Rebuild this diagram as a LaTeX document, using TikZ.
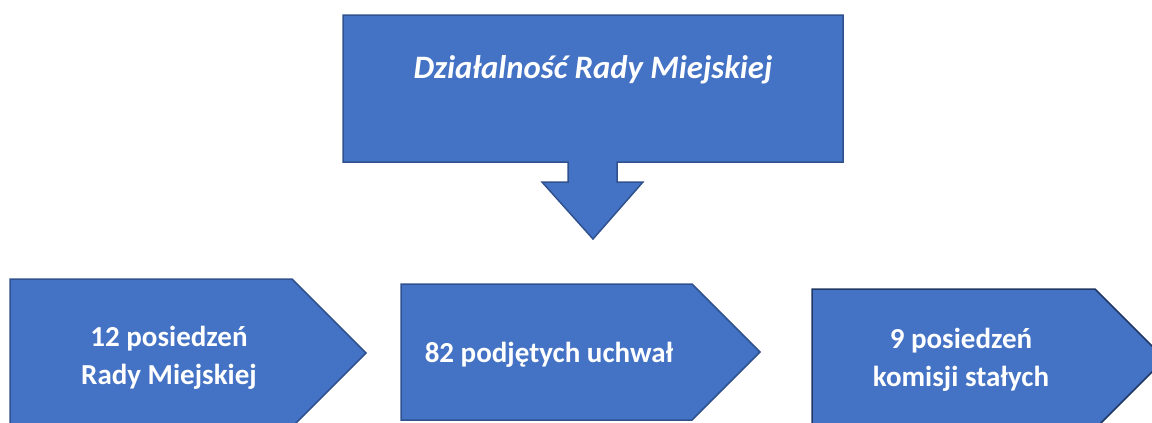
\documentclass[tikz,border=0pt]{standalone}
\usepackage{fontspec}
\setmainfont{Carlito}
\definecolor{boxblue}{HTML}{4472C4}
\definecolor{boxline}{HTML}{2F528F}
\definecolor{boxdark}{HTML}{203864}
\begin{document}
\begin{tikzpicture}[x=1pt,y=-1pt,
    boxshape/.style={fill=boxblue,draw=boxline,line width=1.5pt,line join=miter},
    boxtext/.style={text=white,font=\fontsize{29}{38}\selectfont\bfseries,align=center,inner sep=0pt,anchor=base}]
    \useasboundingbox (0,0) rectangle (1152,423);
    \clip (0,0) rectangle (1152,423);
    \filldraw[boxshape] (343,15)--(843,15)--(843,162)--(617,162)--(617,182)--(643,182)--(593,239)--(542,182)--(568,182)--(568,162)--(343,162)--cycle;
    \node[boxtext,font=\fontsize{32.7}{38}\selectfont\bfseries\itshape] (title) at (593,78) {Działalność Rady Miejskiej};
    \filldraw[boxshape] (10,279)--(292,279)--(366,353)--(292,427)--(10,427)--cycle;
    \node[boxtext] (sessions) at (169,384) {12 posiedzeń\\Rady Miejskiej};
    \filldraw[boxshape] (401,284)--(692,284)--(760,352)--(692,420)--(401,420)--cycle;
    \node[boxtext] (resolutions) at (549,362) {82 podjętych uchwał};
    \filldraw[boxshape,draw=boxdark] (812,289)--(1095,289)--(1165,359)--(1095,429)--(812,429)--cycle;
    \node[boxtext] (committees) at (961,386) {9 posiedzeń\\komisji stałych};
\end{tikzpicture}
\end{document}
